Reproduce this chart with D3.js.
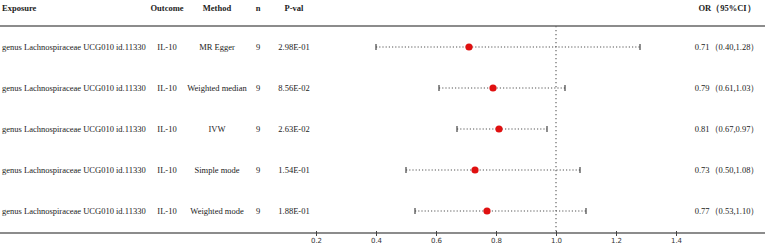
<!DOCTYPE html>
<html>
<head>
<meta charset="utf-8">
<script src="https://cdn.jsdelivr.net/npm/d3@7"></script>
<style>
body { margin: 0; background: #fff; }
</style>
</head>
<body>
<div id="chart"></div>
<script>
var exposures = ["genus Lachnospiraceae UCG010 id.11330", "genus Lachnospiraceae UCG010 id.11330",
	"genus Lachnospiraceae UCG010 id.11330", "genus Lachnospiraceae UCG010 id.11330",
	"genus Lachnospiraceae UCG010 id.11330"];
var outcomes = ["IL-10", "IL-10", "IL-10", "IL-10", "IL-10"];
var methods = ["MR Egger", "Weighted median", "IVW", "Simple mode", "Weighted mode"];
var nsnp = [9, 9, 9, 9, 9];
var pvals = ["2.98E-01", "8.56E-02", "2.63E-02", "1.54E-01", "1.88E-01"];
var or = [0.71, 0.79, 0.81, 0.73, 0.77];
var lower = [0.40, 0.61, 0.67, 0.50, 0.53];
var upper = [1.28, 1.03, 0.97, 1.08, 1.10];
var ticks = [0.2, 0.4, 0.6, 0.8, 1.0, 1.2, 1.4];

var width = 767, height = 250;
var topLine = 26, axisY = 233;
var serif = "'Liberation Serif', 'Times New Roman', serif";

var svg = d3.select("#chart").append("svg")
	.attr("width", width)
	.attr("height", height);

var x = d3.scaleLinear().domain([0.2, 1.4]).range([316, 676]);

function rowY(i) { return 47 + i * 41; }

// column layout
var cols = [
	{ title: "Exposure", x: 2, anchor: "start", vals: exposures },
	{ title: "Outcome", x: 167, anchor: "middle", vals: outcomes },
	{ title: "Method", x: 217, anchor: "middle", vals: methods },
	{ title: "n", x: 258, anchor: "middle", vals: nsnp },
	{ title: "P-val", x: 294, anchor: "middle", vals: pvals },
	{ title: "OR\uFF0895%CI\uFF09", x: 727, anchor: "middle",
		vals: or.map(function(d, i) { return d.toFixed(2) + "\uFF08" + lower[i].toFixed(2) + "," + upper[i].toFixed(2) + "\uFF09"; }) }
];

cols.forEach(function(c) {
	svg.append("text")
		.attr("x", c.x).attr("y", 11)
		.attr("text-anchor", c.anchor)
		.style("font-family", serif)
		.style("font-size", "8.5px").style("font-weight", "bold")
		.attr("fill", "#222")
		.text(c.title);
	svg.selectAll(null).data(c.vals).enter().append("text")
		.attr("x", c.x)
		.attr("y", function(d, i) { return rowY(i) + 3; })
		.attr("text-anchor", c.anchor)
		.style("font-family", serif)
		.style("font-size", "8.5px")
		.attr("fill", "#222")
		.text(function(d) { return d; });
});

// header rule
svg.append("line")
	.attr("x1", 0).attr("x2", width - 2)
	.attr("y1", topLine).attr("y2", topLine)
	.attr("stroke", "#666").attr("stroke-width", 1.5);

// reference line at 1
svg.append("line")
	.attr("x1", x(1)).attr("x2", x(1))
	.attr("y1", topLine).attr("y2", axisY)
	.attr("stroke", "#666").attr("stroke-width", 1.2)
	.attr("stroke-dasharray", "1.2,2.8");

// CIs
var g = svg.selectAll("g.row").data(methods).enter().append("g")
	.attr("class", "row");

g.append("line")
	.attr("x1", function(d, i) { return x(lower[i]); })
	.attr("x2", function(d, i) { return x(upper[i]); })
	.attr("y1", function(d, i) { return rowY(i); })
	.attr("y2", function(d, i) { return rowY(i); })
	.attr("stroke", "#555").attr("stroke-width", 1.1)
	.attr("stroke-dasharray", "1.2,2");

g.append("line")
	.attr("x1", function(d, i) { return x(lower[i]); })
	.attr("x2", function(d, i) { return x(lower[i]); })
	.attr("y1", function(d, i) { return rowY(i) - 3; })
	.attr("y2", function(d, i) { return rowY(i) + 3; })
	.attr("stroke", "#444").attr("stroke-width", 1.2);

g.append("line")
	.attr("x1", function(d, i) { return x(upper[i]); })
	.attr("x2", function(d, i) { return x(upper[i]); })
	.attr("y1", function(d, i) { return rowY(i) - 3; })
	.attr("y2", function(d, i) { return rowY(i) + 3; })
	.attr("stroke", "#444").attr("stroke-width", 1.2);

g.append("circle")
	.attr("cx", function(d, i) { return x(or[i]); })
	.attr("cy", function(d, i) { return rowY(i); })
	.attr("r", 3.6)
	.attr("fill", "#e01010");

// bottom axis
svg.append("line")
	.attr("x1", 0).attr("x2", width - 2)
	.attr("y1", axisY).attr("y2", axisY)
	.attr("stroke", "#666").attr("stroke-width", 1.5);

var axis = svg.append("g")
	.attr("transform", "translate(0," + axisY + ")")
	.call(d3.axisBottom(x).tickValues(ticks).tickSize(3).tickFormat(d3.format(".1f")));
axis.select(".domain").remove();
axis.selectAll(".tick line").attr("stroke", "#444").attr("y1", -2);
axis.selectAll(".tick text")
	.style("font-family", "'DejaVu Sans', sans-serif")
	.style("font-size", "7px")
	.attr("fill", "#333")
	.attr("y", 5)
	.attr("dy", "0.71em");
</script>
</body>
</html>
